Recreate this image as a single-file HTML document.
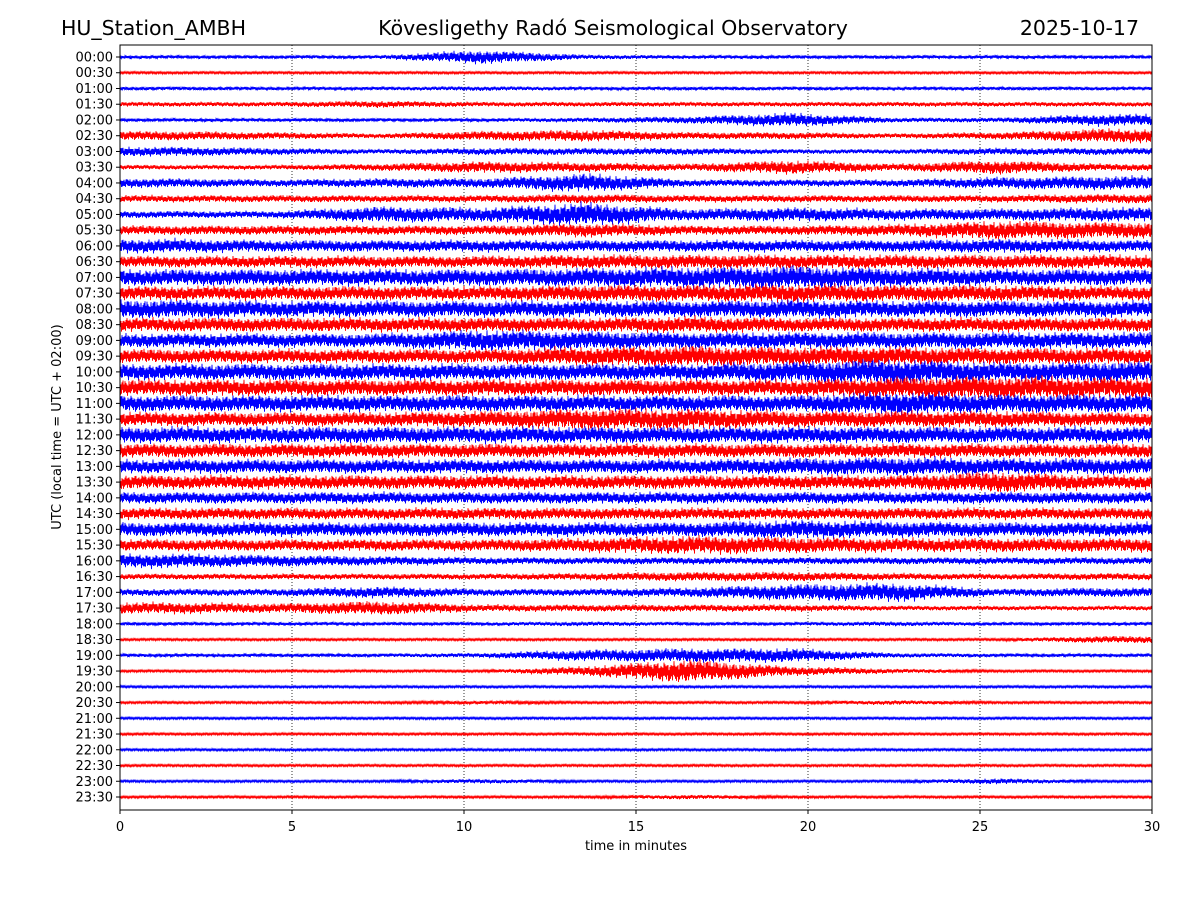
<!DOCTYPE html>
<html><head><meta charset="utf-8"><style>
html,body{margin:0;padding:0;background:#fff}
svg{display:block;font-family:"DejaVu Sans","Liberation Sans",sans-serif}
</style></head><body>
<svg id="chart" width="1200" height="900" viewBox="0 0 1200 900">
<rect width="1200" height="900" fill="#fff"/>
<text x="61" y="35" font-size="20.5">HU_Station_AMBH</text>
<text x="613" y="35" font-size="20.5" text-anchor="middle">Kövesligethy Radó Seismological Observatory</text>
<text x="1139" y="35" font-size="20.5" text-anchor="end">2025-10-17</text>
<g id="grid"></g>
<g id="traces"></g>
<rect x="120" y="45" width="1032" height="765" fill="none" stroke="#000" stroke-width="1"/>
<g id="yaxis"></g>
<g id="xaxis"></g>
<text x="636" y="850" font-size="13" text-anchor="middle">time in minutes</text>
<text transform="translate(61,427) rotate(-90)" font-size="13" text-anchor="middle">UTC (local time = UTC + 02:00)</text>
</svg>
<script>
const xTicks=[0,5,10,15,20,25,30];
const rowLabels=[];
for(let h=0;h<24;h++){const hh=String(h).padStart(2,'0');rowLabels.push(hh+':00');rowLabels.push(hh+':30');}
// envelope half-amplitude (px) per 3-minute segment, per row
const envelopes=[
[1.5,1.5,1.5,6,2,1.5,1.5,1.5,1.5,1.5],
[1,1,1,1,1,1,1,1,1,1],
[1.5,1.5,1.5,2,1.5,1.5,1.5,1.5,1.5,1.5],
[2,2,3,2,2,2,2,2,2,2],
[1.5,1.5,1.5,1.5,2,3,6,2,2,5],
[4,3,2,4,5,3,3,2,3,6],
[4,3,2,3,3,3,2,2,3,3],
[2,2,3,5,4,3,6,3,6,3],
[4,3,4,4,8,3,3,3,5,6],
[3,3,3,3,4,3,3,3,3,4],
[3,3,7,6,10,5,6,5,5,6],
[4,4,4,4,6,4,4,5,8,7],
[6,5,5,5,5,5,5,5,6,5],
[5,5,5,5,6,6,6,6,6,6],
[7,7,7,7,8,9,10,8,7,7],
[6,6,6,6,7,7,8,7,7,6],
[8,7,7,7,7,7,8,7,7,7],
[6,6,6,6,6,7,6,6,6,6],
[6,6,6,9,8,7,7,7,7,7],
[6,6,6,6,8,9,8,8,7,7],
[7,7,7,7,7,7,9,11,8,9],
[7,7,7,7,7,7,7,9,10,9],
[7,7,7,7,7,7,7,10,8,8],
[6,6,6,7,9,9,7,7,7,6],
[7,7,7,7,7,7,7,7,7,7],
[6,6,6,6,6,6,6,6,6,6],
[6,6,6,6,6,6,7,8,7,7],
[6,6,6,6,6,6,6,6,9,6],
[5,5,5,5,5,5,5,5,5,5],
[5,5,5,5,5,5,5,5,5,5],
[6,6,6,6,6,6,8,7,6,6],
[5,5,5,5,6,8,7,6,6,6],
[6,5,4,3,3,3,3,3,3,3],
[2.5,2.5,2.5,2.5,3,4,4,3,2.5,3],
[3,3,5,3,3,4,7,8,3,4],
[5,4,6,3,3,3,3,2,2,2],
[1.5,1.5,1.5,1.5,2,1.5,1.5,2,1.5,1.5],
[1,1,1,1,1,1,1,1,1,3],
[1.5,1.5,1.5,2,5,6,6,2,1.5,1.5],
[1,1,1,1,4,10,4,2,1,1],
[1,1,1,1,1,1,1,1,1,1],
[1,1,1,1.5,1,1,1,2,1,1],
[1,1,1,1,1,1,1,1,1,1],
[1,1,1,1,1,1,1,1,1,1],
[1,1,1,1,1,1,1,1,1,1],
[1,1,1,1,1,1,1,1,1,1],
[1,1,1,2,1,1,1,1,2.5,1],
[1,1,1,1,1,2,1,1,1,1]
];
const NS='http://www.w3.org/2000/svg';
const X0=120,X1=1152,Y0=57,Y1=797;
const xScale=m=>X0+(m/30)*(X1-X0);
const yScale=i=>Y0+i*(Y1-Y0)/(rowLabels.length-1);
function mk(tag,attrs,parent){const e=document.createElementNS(NS,tag);for(const k in attrs)e.setAttribute(k,attrs[k]);parent.appendChild(e);return e;}
const grid=document.getElementById('grid'),xa=document.getElementById('xaxis'),ya=document.getElementById('yaxis'),tr=document.getElementById('traces');
xTicks.forEach(t=>{
  const x=xScale(t);
  if(t>0&&t<30){const g=mk('line',{x1:x,x2:x,y1:45,y2:810,stroke:'#000','stroke-width':0.8,'stroke-dasharray':'1,2'},grid);
    
    }
  const tk=mk('line',{x1:x,x2:x,y1:810,y2:814,stroke:'#000'},xa);
  
  
  const lb=mk('text',{x:x,y:831,'font-size':13,'text-anchor':'middle'},xa);lb.textContent=t;
  
  
});
rowLabels.forEach((l,i)=>{
  const y=yScale(i);
  const tk=mk('line',{x1:116,x2:120,y1:y,y2:y,stroke:'#000'},ya);
  
  
  const lb=mk('text',{x:113,y:y+4.5,'font-size':13,'text-anchor':'end'},ya);lb.textContent=l;
  
  
});
envelopes.forEach((env,i)=>{
  const yc=yScale(i);let d='';
  for(let px=0,k=0;px<=X1-X0;px+=0.5,k++){
    const m=px/(X1-X0)*30;
    const s=Math.min(env.length-1,Math.max(0,m/3-0.5));
    const s0=Math.floor(s),s1=Math.min(env.length-1,s0+1),f=s-s0;
    const a=1.15*(env[s0]*(1-f)+env[s1]*f);
    const w=(Math.sin(px*1.913+i*2.1)+Math.sin(px*0.731+i*0.7)*0.8+Math.sin(px*3.117+i*1.3)*0.6+Math.sin(px*0.0917+i*3.1)*0.5)/2.9;
    const y=yc+a*(0.6*(k%2?1:-1)+0.6*w);
    d+=(k===0?'M':'L')+(X0+px).toFixed(1)+','+y.toFixed(1);
  }
  const p=mk('path',{d:d,fill:'none',stroke:i%2?'#ff0000':'#0000ff','stroke-width':0.9},tr);
  
  
});
</script>
</body></html>
